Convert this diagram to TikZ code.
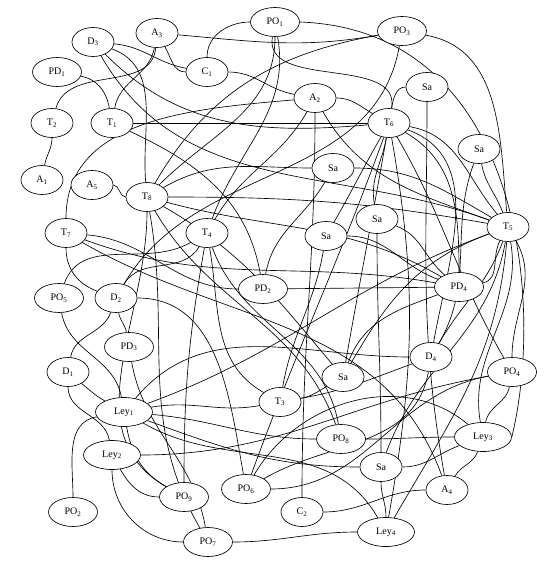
\documentclass[tikz,border=0pt]{standalone}
\usepackage{fontspec}
\setmainfont{Liberation Serif}
\usetikzlibrary{shapes.geometric}
\pgfdeclarelayer{bg}
\pgfsetlayers{bg,main}
\newcommand\lb[2]{#1\textsubscript{#2}}
\tikzset{
  nd/.style={ellipse, draw, line width=0.65pt, fill=white, minimum width=42pt, minimum height=29pt, inner sep=0pt, font=\fontsize{10}{12}\selectfont},
  wd/.style={nd, minimum width=49pt},
  wl/.style={nd, minimum width=57pt},
  ed/.style={line width=0.65pt}
}
\begin{document}
\begin{tikzpicture}[x=1pt,y=1pt]
\useasboundingbox (0,0) rectangle (547,-562);
\node[wd] (PO1) at (275,-22) {\lb{PO}{1}};
\node[wd] (PO3) at (402,-31) {\lb{PO}{3}};
\node[nd] (D3) at (93,-42) {\lb{D}{3}};
\node[nd] (A3) at (157,-33) {\lb{A}{3}};
\node[nd] (C1) at (207,-72) {\lb{C}{1}};
\node[wd] (PD1) at (57,-72) {\lb{PD}{1}};
\node[nd] (A2) at (315,-98) {\lb{A}{2}};
\node[nd] (SaA) at (427,-87) {Sa};
\node[nd] (T2) at (52,-123) {\lb{T}{2}};
\node[nd] (T1) at (112,-123) {\lb{T}{1}};
\node[nd] (T6) at (389,-123) {\lb{T}{6}};
\node[nd] (SaB) at (479,-149) {Sa};
\node[nd] (A1) at (42,-180) {\lb{A}{1}};
\node[nd] (A5) at (92,-185) {\lb{A}{5}};
\node[nd] (T8) at (147,-197) {\lb{T}{8}};
\node[nd] (SaC) at (333,-168) {Sa};
\node[nd] (SaD) at (377,-219) {Sa};
\node[nd] (T7) at (66,-233) {\lb{T}{7}};
\node[nd] (T4) at (207,-233) {\lb{T}{4}};
\node[nd] (SaE) at (326,-236) {Sa};
\node[nd] (T5) at (508,-227) {\lb{T}{5}};
\node[wd] (PD2) at (263,-289) {\lb{PD}{2}};
\node[wd] (PD4) at (459,-287) {\lb{PD}{4}};
\node[wd] (PO5) at (59,-298) {\lb{PO}{5}};
\node[nd] (D2) at (116,-298) {\lb{D}{2}};
\node[wd] (PD3) at (129,-347) {\lb{PD}{3}};
\node[nd] (D1) at (68,-372) {\lb{D}{1}};
\node[nd] (D4) at (431,-357) {\lb{D}{4}};
\node[nd] (SaF) at (343,-377) {Sa};
\node[wd] (PO4) at (512,-372) {\lb{PO}{4}};
\node[nd] (T3) at (280,-402) {\lb{T}{3}};
\node[wl] (Ley1) at (124,-412) {\lb{Ley}{1}};
\node[wd] (PO8) at (341,-439) {\lb{PO}{8}};
\node[wl] (Ley3) at (483,-437) {\lb{Ley}{3}};
\node[wl] (Ley2) at (112,-455) {\lb{Ley}{2}};
\node[nd] (SaG) at (381,-467) {Sa};
\node[wd] (PO9) at (184,-497) {\lb{PO}{9}};
\node[wd] (PO6) at (246,-489) {\lb{PO}{6}};
\node[nd] (A4) at (447,-490) {\lb{A}{4}};
\node[nd] (C2) at (302,-512) {\lb{C}{2}};
\node[wd] (PO2) at (73,-512) {\lb{PO}{2}};
\node[wd] (PO7) at (208,-542) {\lb{PO}{7}};
\node[wl] (Ley4) at (386,-532) {\lb{Ley}{4}};
\begin{pgfonlayer}{bg}
\begin{scope}[ed]
\draw (PD1) to[out=-10,in=100] (T1);
\draw (A3) to[out=-95,in=75] (T2);
\draw (A3) to[out=-100,in=80] (T1);
\draw (A3) to[out=-60,in=180] (C1);
\draw (D3) to[out=-5,in=170] (C1);
\draw (D3) to[out=-20,in=95] (T8);
\draw (D3) to[out=-45,in=185] (T6);
\draw (D3) to[out=-60,in=160] (T5);
\draw (T2) to[out=-90,in=80] (A1);
\draw (T1) -- (T6);
\draw (T1) to[out=-25,in=100] (PD2);
\draw (PO1) to[out=180,in=90] (C1);
\draw (C1) to[out=0,in=170] (A2);
\draw (A3) to[out=-5,in=190] (PO3);
\draw (PO1) to[out=-100,in=80] (T6);
\draw (PO1) to[out=-90,in=45] (T8);
\draw (PO1) to[out=-80,in=70] (T4);
\draw (PO1.east) .. controls (520,-30) and (545,-300) .. (Ley3.east);
\draw (PO3) to[out=-10,in=95] (T5);
\draw (PO3) to[out=190,in=60] (T8);
\draw (PO3) to[out=-100,in=60] (D2);
\draw (T7) to[out=90,in=185] (A2);
\draw (A5) to[out=0,in=180] (T8);
\draw (T7) to[out=-5,in=180] (PD2);
\draw (T7) to[out=-20,in=170] (PD4);
\draw (PO5) to[out=70,in=-150] (T4);
\draw (T7) to[out=-90,in=160] (D2);
\draw (PO5) to[out=-80,in=100] (Ley1);
\draw (D2) to[out=-80,in=100] (PD3);
\draw (D2) to[out=0,in=100] (PO6);
\draw (D2) to[out=-110,in=80] (D1);
\draw (D2) to[out=60,in=-120] (T4);
\draw (PD3) to[out=-80,in=100] (PO7);
\draw (D1) to[out=-40,in=150] (Ley1);
\draw (D1) to[out=-90,in=100] (Ley2);
\draw (Ley1) to[out=190,in=90] (PO2);
\draw (Ley1) to[out=50,in=180] (D4);
\draw (Ley1) to[out=-5,in=180] (PO8);
\draw (Ley1) to[out=-20,in=180] (SaG);
\draw (Ley1) to[out=-30,in=120] (Ley4);
\draw (Ley1) to[out=10,in=190] (T3);
\draw (Ley1) to[out=-80,in=150] (PO9);
\draw (T8) to[out=-80,in=120] (PO7);
\draw (Ley2) to[out=-60,in=180] (PO9);
\draw (Ley2) to[out=-90,in=180] (PO7);
\draw (Ley2) to[out=0,in=190] (PO4);
\draw (A2) to[out=-90,in=90] (C2);
\draw (A2) to[out=0,in=150] (T6);
\draw (A2) to[out=-120,in=60] (T4);
\draw (A2) to[out=-60,in=160] (T5);
\draw (SaA) to[out=180,in=80] (T6);
\draw (SaA) to[out=-90,in=100] (A4);
\draw (SaB) to[out=-80,in=110] (T5);
\draw (SaB) to[out=-110,in=60] (D4);
\draw (T6) to[out=-20,in=80] (D4);
\draw (T6) to[out=-30,in=90] (PD4);
\draw (T6) to[out=-10,in=130] (T5);
\draw (T6) to[out=-100,in=100] (SaD);
\draw (T6) to[out=-120,in=60] (SaE);
\draw (T6) to[out=-110,in=70] (PO6);
\draw (T6) to[out=-100,in=80] (SaF);
\draw (T6) to[out=-80,in=80] (Ley4);
\draw (T8) to[out=30,in=180] (SaC);
\draw (SaC) to[out=0,in=150] (T5);
\draw (SaC) to[out=-120,in=80] (PD2);
\draw (SaD) to[out=-90,in=90] (SaG);
\draw (SaD) to[out=-20,in=140] (PD4);
\draw (SaE) to[out=-100,in=80] (T3);
\draw (SaE) to[out=0,in=160] (PD4);
\draw (T5) to[out=200,in=60] (SaF);
\draw (T5) to[out=200,in=20] (Ley1);
\draw (T5) to[out=-110,in=60] (D4);
\draw (T5) to[out=-60,in=90] (PO4);
\draw (T5) to[out=-100,in=70] (SaG);
\draw (T5) to[out=-95,in=60] (Ley4);
\draw (PD4) to[out=10,in=-120] (T5);
\draw (PD4) to[out=200,in=70] (SaF);
\draw (PD2) -- (PD4);
\draw (T8) to[out=0,in=170] (T5);
\draw (T8) to[out=-15,in=150] (PD4);
\draw (T8) to[out=-30,in=130] (SaF);
\draw (T8) to[out=-60,in=110] (PO8);
\draw (T8) to[out=-90,in=150] (PO9);
\draw (T7) to[out=-30,in=110] (A4);
\draw (D4) to[out=200,in=10] (T3);
\draw (D4) to[out=-100,in=30] (PO6);
\draw (PO4) to[out=-100,in=80] (Ley3);
\draw (PO4) to[out=190,in=0] (PO6);
\draw (PO4) to[out=120,in=-60] (T6);
\draw (Ley3) to[out=180,in=0] (PO8);
\draw (Ley3) to[out=200,in=0] (SaG);
\draw (Ley3) to[out=-110,in=60] (A4);
\draw (Ley3) to[out=140,in=60] (PO6);
\draw (Ley3) to[out=100,in=-80] (T5);
\draw (SaG) to[out=-90,in=90] (Ley4);
\draw (C2) to[out=0,in=180] (A4);
\draw (T4) to[out=-100,in=90] (PO9);
\draw (T4) to[out=-70,in=100] (PO8);
\draw (T4) to[out=-80,in=150] (T3);
\draw (T3) to[out=10,in=-150] (SaF);
\draw (PO7) to[out=0,in=180] (Ley4);
\end{scope}
\end{pgfonlayer}
\end{tikzpicture}
\end{document}
